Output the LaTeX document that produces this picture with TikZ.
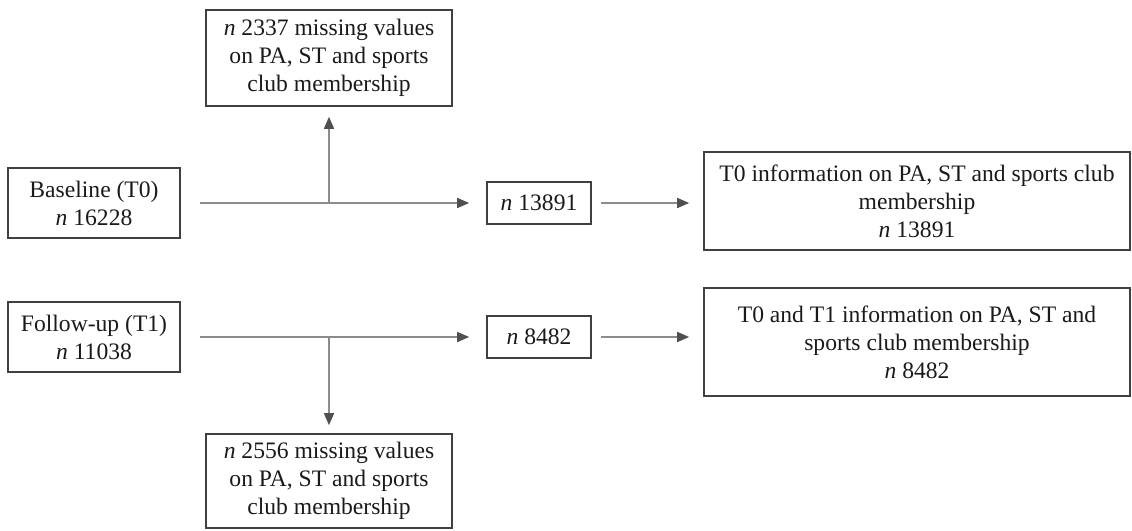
\documentclass[tikz,border=0pt]{standalone}
\usepackage{fontspec}
\setmainfont{Liberation Serif}
\usetikzlibrary{arrows.meta}
\definecolor{boxline}{HTML}{404040}
\definecolor{arrline}{HTML}{8C8C8C}
\definecolor{tipcol}{HTML}{505050}
\definecolor{txt}{HTML}{1A1A1A}
\begin{document}
\begin{tikzpicture}[x=1pt,y=-1pt,
  box/.style={draw=boxline, line width=1.6pt, align=center, inner sep=0pt, text=txt,
    font=\fontsize{23.6}{28}\selectfont},
  arr/.style={draw=arrline, line width=1.5pt,
    -{Triangle[length=12pt,width=10pt,color=tipcol]}}]
\useasboundingbox (0,0) rectangle (1132,530);
\node[box, minimum width=246pt, minimum height=96pt] (miss1) at (329,58)
  {\textit{n} 2337 missing values\\on PA, ST and sports\\club membership};
\node[box, minimum width=172pt, minimum height=70pt] (base) at (94,203)
  {Baseline (T0)\\\textit{n} 16228};
\node[box, minimum width=104pt, minimum height=42pt] (n1) at (539,203)
  {\textit{n} 13891};
\node[box, minimum width=426pt, minimum height=98pt] (info1) at (917,201)
  {T0 information on PA, ST and sports club\\membership\\\textit{n} 13891};
\node[box, minimum width=172pt, minimum height=70pt] (follow) at (94,337)
  {Follow-up (T1)\\\textit{n} 11038};
\node[box, minimum width=104pt, minimum height=42pt] (n2) at (539,337)
  {\textit{n} 8482};
\node[box, minimum width=426pt, minimum height=108pt] (info2) at (917,342)
  {T0 and T1 information on PA, ST and\\sports club membership\\\textit{n} 8482};
\node[box, minimum width=246pt, minimum height=94pt] (miss2) at (329,481)
  {\textit{n} 2556 missing values\\on PA, ST and sports\\club membership};
\coordinate (j1) at (329,203);
\coordinate (j2) at (329,337);
\draw[arr, shorten <=19pt, shorten >=17pt] (base) -- (n1);
\draw[arr, shorten >=10pt] (j1) -- (miss1);
\draw[arr, shorten <=9pt, shorten >=14pt] (n1.east) -- (n1.east -| info1.west);
\draw[arr, shorten <=19pt, shorten >=17pt] (follow) -- (n2);
\draw[arr, shorten >=8pt] (j2) -- (miss2);
\draw[arr, shorten <=9pt, shorten >=14pt] (n2.east) -- (n2.east -| info2.west);
\end{tikzpicture}
\end{document}
